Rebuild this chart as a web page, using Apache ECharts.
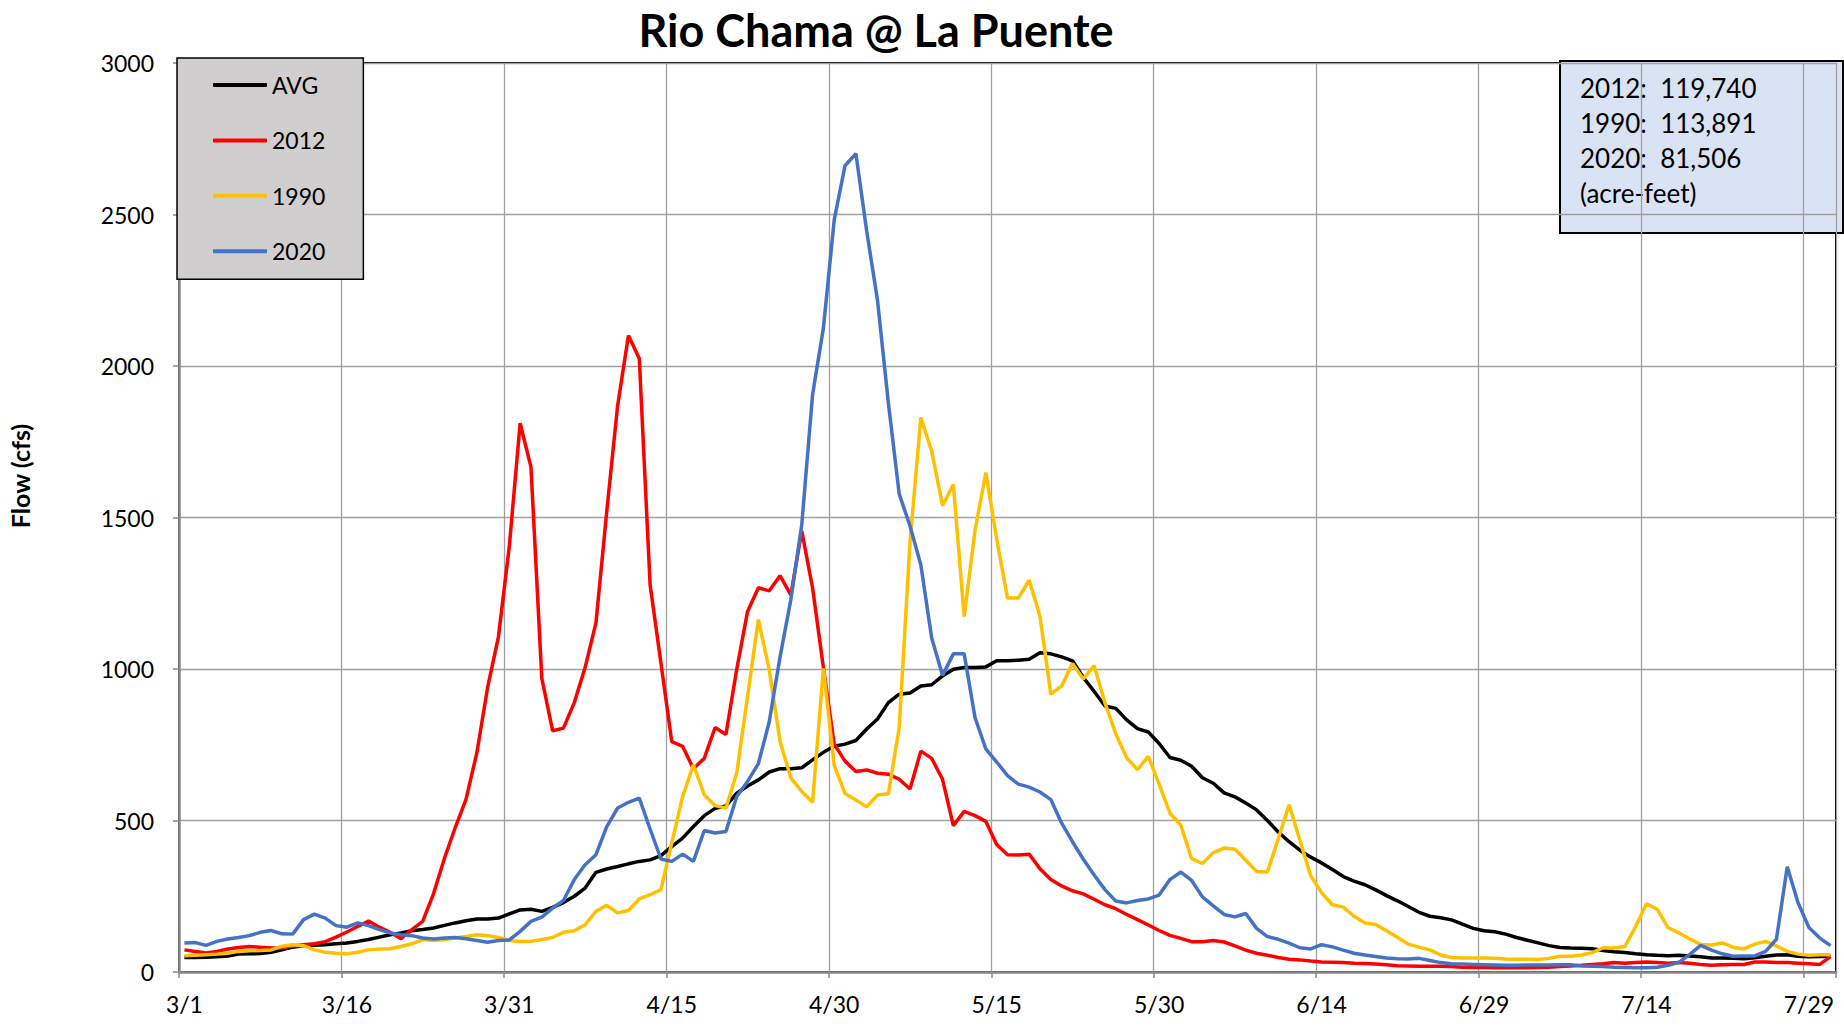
<!DOCTYPE html>
<html><head><meta charset="utf-8">
<script src="https://cdn.jsdelivr.net/npm/echarts/dist/echarts.min.js"></script>
<style>html,body{margin:0;padding:0;background:#fff}#c{width:1844px;height:1026px}</style>
</head><body><div id="c"></div>
<script>
// ---- data ----
const monthNums = [3, 4, 5, 6, 7];
const monthDays = [31, 30, 31, 30, 31];
const categories = [];
monthNums.forEach((m, i) => { for (let d = 1; d <= monthDays[i]; d++) categories.push(m + '/' + d); });

const seriesNames = ['AVG', '2012', '1990', '2020'];
const seriesColors = ['#000000', '#ff0000', '#ffc000', '#4472c4'];

const avg = [
  48,48,49,50,53,59,60,61,65,73,
  82,87,88,90,93,96,101,107,115,123,
  129,136,140,145,154,162,169,175,175,178,
  192,205,207,200,213,229,250,277,329,340,
  348,357,365,370,384,414,442,480,516,540,
  548,590,614,634,660,671,671,674,700,725,
  745,752,764,802,835,889,917,921,944,948,
  977,999,1005,1005,1007,1027,1027,1029,1032,1054,
  1050,1040,1027,972,926,878,870,832,803,792,
  754,708,699,679,641,623,591,578,558,535,
  500,462,430,402,379,360,338,315,300,288,
  271,252,235,216,197,184,179,172,158,144,
  136,133,125,114,105,96,87,81,79,78,
  77,71,67,64,60,57,55,54,55,53,
  50,46,46,45,44,47,52,56,57,52,
  50,51,52
];
const y2012 = [
  73,68,63,68,76,81,84,82,79,80,
  86,90,93,100,115,132,150,168,148,131,
  110,140,167,258,374,476,570,723,940,1107,
  1405,1811,1666,969,796,805,889,1005,1152,1521,
  1869,2101,2025,1278,1020,760,745,671,705,807,
  784,999,1190,1268,1258,1308,1244,1456,1268,1005,
  752,696,662,667,656,653,636,604,729,705,
  636,483,530,516,497,421,387,386,389,341,
  305,284,268,258,240,222,209,190,173,155,
  137,121,111,100,100,104,99,86,72,62,
  55,48,42,40,36,33,32,31,29,28,
  26,24,21,20,19,19,19,18,16,15,
  15,14,14,14,14,15,16,18,20,22,
  25,27,31,29,31,33,31,29,31,29,
  25,22,24,25,25,33,33,31,31,29,
  27,25,51
];
const y1990 = [
  54,55,57,59,62,68,70,71,73,85,
  90,87,73,65,62,60,65,73,76,77,
  84,93,107,104,107,112,117,123,120,114,
  104,101,101,107,114,131,136,156,200,220,
  195,203,241,255,272,426,579,684,585,549,
  541,657,909,1163,997,761,640,596,560,1002,
  682,589,568,545,584,588,806,1420,1830,1719,
  1539,1609,1173,1457,1648,1430,1234,1234,1293,1174,
  917,944,1018,967,1011,888,786,707,668,712,
  620,524,485,374,358,394,409,405,369,332,
  330,440,552,434,317,262,222,214,184,162,
  157,136,115,92,82,73,56,48,46,46,
  46,45,43,42,42,41,45,52,52,56,
  64,80,79,84,150,225,207,146,129,109,
  91,89,96,82,76,92,101,86,68,59,
  55,57,57
];
const y2020 = [
  96,97,88,101,109,114,120,131,137,126,
  125,173,191,178,153,148,162,153,140,129,
  123,120,112,109,112,114,110,104,98,104,
  106,134,167,181,211,236,305,354,387,480,
  541,560,574,472,373,365,389,365,467,459,
  464,579,629,688,826,1040,1230,1475,1905,2125,
  2482,2661,2701,2445,2216,1878,1578,1472,1343,1102,
  979,1050,1050,840,736,693,648,620,610,594,
  569,491,430,372,320,272,234,228,236,241,
  254,305,330,302,248,218,190,182,193,144,
  117,108,95,80,76,90,83,72,62,56,
  51,46,44,43,45,38,31,27,26,25,
  24,23,22,22,23,23,23,24,24,20,
  19,18,16,15,14,14,16,22,32,58,
  88,72,60,52,53,53,68,108,347,228,
  147,112,87
];
const seriesValues = [avg, y2012, y1990, y2020];

const yTicks = { min: 0, max: 3000, interval: 500 };
const labelEvery = 15;

const annYears = ['2012', '1990', '2020'];
const annVolumes = ['119,740', '113,891', '81,506'];
const annUnit = '(acre-feet)';

// ---- chart ----
const FONT = 'Lato, "Open Sans", sans-serif';
const chart = echarts.init(document.getElementById('c'), null, { renderer: 'svg' });
const gridColor = '#a0a0a0';
const axisColor = '#8a8a8a';

const option = {
  animation: false,
  backgroundColor: '#ffffff',
  title: {
    text: 'Rio Chama @ La Puente',
    left: 876, top: 7, padding: 0, textAlign: 'center',
    textStyle: { fontFamily: FONT, fontWeight: 'bold', fontSize: 45, lineHeight: 46, color: '#000' }
  },
  grid: { left: 179, right: 8, top: 63, bottom: 54, show: true, borderColor: '#000', borderWidth: 2, backgroundColor: 'transparent' },
  legend: {
    data: seriesNames,
    orient: 'vertical', left: 177, top: 58,
    padding: [13, 38, 14, 36],
    itemGap: 27.4, itemWidth: 54, itemHeight: 4, icon: 'roundRect',
    backgroundColor: '#d0cece', borderColor: '#000', borderWidth: 1.5,
    textStyle: { fontFamily: FONT, fontSize: 23, color: '#000', lineHeight: 28 }
  },
  xAxis: {
    type: 'category', data: categories, boundaryGap: true,
    axisLine: { show: true, lineStyle: { color: axisColor, width: 2.5 } },
    axisTick: { show: true, interval: labelEvery - 1, length: 6, lineStyle: { color: axisColor, width: 1.5 } },
    axisLabel: { interval: labelEvery - 1, margin: 20, fontFamily: FONT, fontSize: 23, color: '#000' },
    splitLine: { show: true, interval: labelEvery - 1, lineStyle: { color: gridColor, width: 1.3 } }
  },
  yAxis: {
    type: 'value', min: yTicks.min, max: yTicks.max, interval: yTicks.interval,
    axisLine: { show: true, lineStyle: { color: axisColor, width: 2.5 } },
    axisTick: { show: true, length: 6, lineStyle: { color: axisColor, width: 1.5 } },
    axisLabel: { margin: 25, fontFamily: FONT, fontSize: 23, color: '#000', formatter: v => String(v) },
    splitLine: { show: true, lineStyle: { color: gridColor, width: 1.3 } }
  },
  series: seriesNames.map((n, i) => ({
    name: n, type: 'line', data: seriesValues[i],
    symbol: 'none', showSymbol: false, smooth: false,
    lineStyle: { color: seriesColors[i], width: 3.5 },
    itemStyle: { color: seriesColors[i] }
  })),
  graphic: [
    {
      type: 'text', x: 20, y: 476, rotation: Math.PI / 2,
      style: { text: 'Flow (cfs)', fontFamily: FONT, fontWeight: 'bold', fontSize: 25, fill: '#000', align: 'center', verticalAlign: 'middle' }
    },
    {
      type: 'group', z: 100,
      children: [
        { type: 'rect', shape: { x: 1560, y: 61, width: 283, height: 172 }, style: { fill: '#dae3f3', stroke: '#000', lineWidth: 2 } },
        {
          type: 'text', x: 1580, y: 70,
          style: {
            text: annYears.map((y, i) => y + ':\u00a0 ' + annVolumes[i]).concat([annUnit]).join('\n'),
            fontFamily: FONT, fontSize: 26, lineHeight: 35, fill: '#000', align: 'left', verticalAlign: 'top'
          }
        }
      ]
    }
  ]
};
chart.setOption(option);
</script>
</body></html>
